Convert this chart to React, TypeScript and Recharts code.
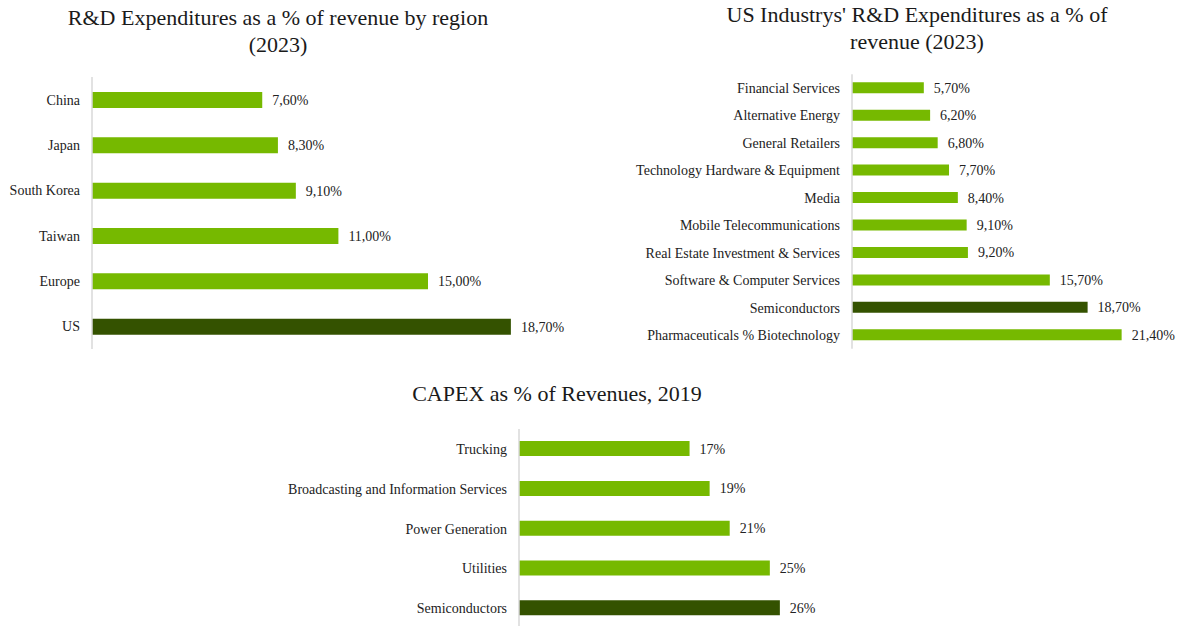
import React from "react";
import { BarChart, Bar, XAxis, YAxis, Cell, LabelList } from "recharts";

// R&D by region (2023)
const regions = ["China", "Japan", "South Korea", "Taiwan", "Europe", "US"];
const regionValues = [7.6, 8.3, 9.1, 11.0, 15.0, 18.7];
const regionHighlight = "US";

// US industries R&D (2023)
const industries = [
  "Financial Services",
  "Alternative Energy",
  "General Retailers",
  "Technology Hardware & Equipment",
  "Media",
  "Mobile Telecommunications",
  "Real Estate Investment & Services",
  "Software & Computer Services",
  "Semiconductors",
  "Pharmaceuticals % Biotechnology",
];
const industryValues = [5.7, 6.2, 6.8, 7.7, 8.4, 9.1, 9.2, 15.7, 18.7, 21.4];
const industryHighlight = "Semiconductors";

// CAPEX 2019
const capexSectors = [
  "Trucking",
  "Broadcasting and Information Services",
  "Power Generation",
  "Utilities",
  "Semiconductors",
];
const capexValues = [17, 19, 21, 25, 26];
const capexHighlight = "Semiconductors";

const GREEN = "#76B900";
const DARK = "#345200";
const FONT = '"Liberation Serif", "Times New Roman", serif';

const pctComma = (v: number) => `${v.toFixed(2).replace(".", ",")}%`;
const pctInt = (v: number) => `${v}%`;

interface PanelProps {
  names: string[];
  values: number[];
  highlight: string;
  width: number;
  height: number;
  axisWidth: number;
  maxX: number;
  barSize: number;
  margin: { top: number; right: number; bottom: number; left: number };
  format: (v: number) => string;
}

function Panel({ names, values, highlight, width, height, axisWidth, maxX, barSize, margin, format }: PanelProps) {
  const data = names.map((name, i) => ({ name, value: values[i] }));
  return (
    <BarChart layout="vertical" width={width} height={height} data={data} margin={margin}>
      <XAxis type="number" domain={[0, maxX]} hide allowDataOverflow />
      <YAxis
        type="category"
        dataKey="name"
        width={axisWidth}
        tickLine={false}
        tickMargin={6}
        axisLine={{ stroke: "#D9D9D9", strokeWidth: 1.5 }}
        tick={{ fill: "#222", fontSize: 14 }}
        interval={0}
      />
      <Bar dataKey="value" barSize={barSize} isAnimationActive={false}>
        {data.map((d) => (
          <Cell key={d.name} fill={d.name === highlight ? DARK : GREEN} />
        ))}
        <LabelList
          dataKey="value"
          position="right"
          offset={10}
          formatter={(v: any) => format(Number(v))}
          style={{ fill: "#222", fontSize: 14 }}
        />
      </Bar>
    </BarChart>
  );
}

const titleStyle: React.CSSProperties = {
  position: "absolute",
  fontSize: 22,
  lineHeight: "27px",
  color: "#1a1a1a",
  textAlign: "center",
};

export default function App() {
  return (
    <div
      style={{
        position: "absolute",
        left: 0,
        top: 0,
        width: 1181,
        height: 626,
        overflow: "hidden",
        background: "#fff",
        fontFamily: FONT,
      }}
    >
      <style>{`svg text, svg tspan { font-family: "Liberation Serif", "Times New Roman", serif !important; }`}</style>
      <div style={{ ...titleStyle, left: 0, top: 4, width: 556 }}>
        R&amp;D Expenditures as a % of revenue by region
        <br />
        (2023)
      </div>
      <div style={{ ...titleStyle, left: 640, top: 1, width: 554 }}>
        US Industrys' R&amp;D Expenditures as a % of
        <br />
        revenue (2023)
      </div>
      <div style={{ ...titleStyle, left: 257, top: 380, width: 600 }}>CAPEX as % of Revenues, 2019</div>

      <div style={{ position: "absolute", left: 0, top: 0 }}>
        <Panel
          names={regions}
          values={regionValues}
          highlight={regionHighlight}
          width={600}
          height={360}
          axisWidth={92}
          maxX={20}
          barSize={16}
          margin={{ top: 77, right: 60, bottom: 11, left: 0 }}
          format={pctComma}
        />
      </div>
      <div style={{ position: "absolute", left: 600, top: 0 }}>
        <Panel
          names={industries}
          values={industryValues}
          highlight={industryHighlight}
          width={581}
          height={360}
          axisWidth={252}
          maxX={24}
          barSize={11}
          margin={{ top: 74.3, right: 26.6, bottom: 11.3, left: 0 }}
          format={pctComma}
        />
      </div>
      <div style={{ position: "absolute", left: 250, top: 370 }}>
        <Panel
          names={capexSectors}
          values={capexValues}
          highlight={capexHighlight}
          width={600}
          height={262}
          axisWidth={269}
          maxX={30}
          barSize={15}
          margin={{ top: 59.1, right: 30, bottom: 4, left: 0 }}
          format={pctInt}
        />
      </div>
    </div>
  );
}
